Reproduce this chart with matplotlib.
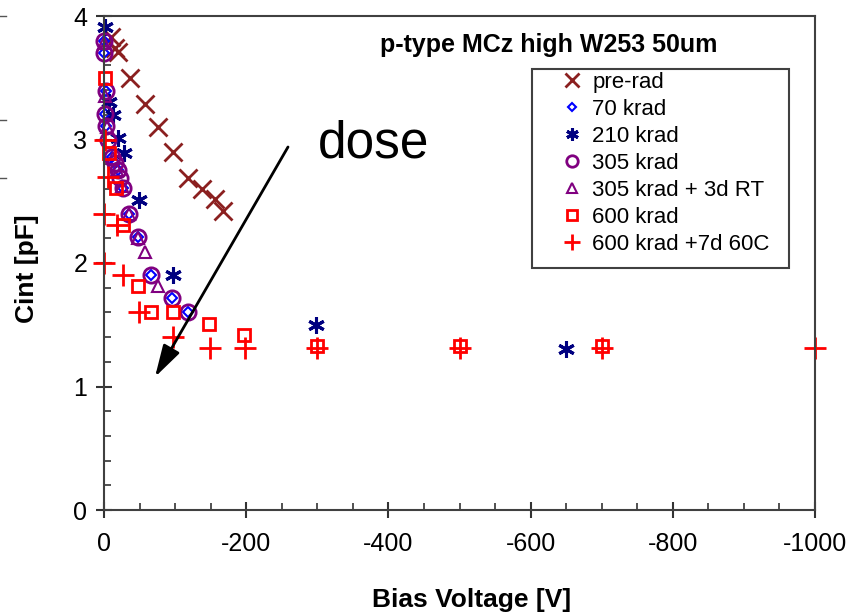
import numpy as np
import matplotlib
matplotlib.use('Agg')
import matplotlib.pyplot as plt
from matplotlib.lines import Line2D
from matplotlib.patches import Rectangle

plt.rcParams['font.family'] = ['Liberation Sans', 'DejaVu Sans']
plt.rcParams['axes.unicode_minus'] = False

# data: bias voltage [V], inter-strip capacitance [pF]
pre_rad_v = [-10, -20, -16, -37, -58, -76, -97, -118, -138, -156, -167]
pre_rad_c = [3.83, 3.71, 3.74, 3.50, 3.29, 3.10, 2.90, 2.69, 2.60, 2.52, 2.42]

k70_v = [0, 0, -3, -2, -3, -11, -15, -20, -27, -35, -48, -66, -96, -118]
k70_c = [3.80, 3.70, 3.39, 3.21, 3.11, 2.86, 2.81, 2.75, 2.61, 2.40, 2.21, 1.90, 1.72, 1.60]

k210_v = [-1, -7, -13, -20, -28, -49, -97, -298, -650]
k210_c = [3.91, 3.30, 3.20, 3.01, 2.89, 2.51, 1.90, 1.50, 1.30]

k305_v = [0, 0, -3, -2, -3, -6, -11, -15, -20, -23, -27, -35, -48, -66, -96, -118]
k305_c = [3.80, 3.70, 3.39, 3.21, 3.11, 3.00, 2.86, 2.81, 2.75, 2.69, 2.61, 2.40, 2.21, 1.90, 1.72, 1.60]

k305rt_v = [0, -2, -4, -12, -18, -25, -35, -48, -58, -76]
k305rt_c = [3.78, 3.35, 3.10, 2.85, 2.75, 2.62, 2.40, 2.20, 2.09, 1.81]

k600_v = [-1, -7, -17, -27, -48, -66, -97, -148, -197, -300, -500, -700]
k600_c = [3.50, 2.89, 2.61, 2.31, 1.81, 1.60, 1.60, 1.51, 1.42, 1.33, 1.33, 1.33]

k600an_v = [-1, -6, 0, -18, 0, -27, -49, -97, -149, -198, -300, -500, -700, -1000]
k600an_c = [3.00, 2.70, 2.40, 2.31, 2.00, 1.90, 1.60, 1.40, 1.31, 1.31, 1.31, 1.31, 1.31, 1.31]

W, H = 856, 614
fig = plt.figure(figsize=(W / 100, H / 100), dpi=100)
ax = fig.add_axes([104 / W, 1 - 510 / H, (815 - 104) / W, (510 - 16) / H])

kw = dict(ls='none', clip_on=False)
ax.plot(pre_rad_v, pre_rad_c, marker='x', ms=13, mew=2, color='#8B2020', label='pre-rad', **kw)
ax.plot(k70_v, k70_c, marker='D', ms=5, mew=1.5, mfc='none', color='#0000FF', label='70 krad', **kw)
ax.plot(k210_v, k210_c, marker=(6, 2, 0), ms=12, mew=2.2, color='#000080', label='210 krad', **kw)
ax.plot(k305_v, k305_c, marker='o', ms=11, mew=2, mfc='none', color='#800080', label='305 krad', **kw)
ax.plot(k305rt_v, k305rt_c, marker='^', ms=9, mew=1.5, mfc='none', color='#800080', label='305 krad + 3d RT', **kw)
ax.plot(k600_v, k600_c, marker='s', ms=9, mew=2, mfc='none', color='#FF0000', label='600 krad', **kw)
ax.plot(k600an_v, k600an_c, marker='+', ms=16, mew=2, color='#FF0000', label='600 krad +7d 60C', **kw)

ax.set_xlim(0, -1000)
ax.set_ylim(0, 4)
ax.set_xticks([0, -200, -400, -600, -800, -1000])
ax.set_yticks([0, 1, 2, 3, 4])
ax.set_xticks(np.arange(0, -1001, -50), minor=True)
ax.set_yticks(np.arange(0, 4.01, 0.2), minor=True)
ax.tick_params(which='major', direction='inout', length=12, width=1.5, labelsize=18, color='#333333', pad=6)
ax.tick_params(axis='x', which='major', pad=10)
ax.tick_params(which='minor', direction='in', length=5, width=1.2, color='#333333')
for s in ax.spines.values():
    s.set_color('#404040')
    s.set_linewidth(1.5)

# legend: frame drawn separately so the padding matches
leg = ax.legend(loc='upper left', bbox_to_anchor=((559 - 104) / 711, (510 - 72) / 494),
                frameon=False, fontsize=16, borderpad=0, borderaxespad=0,
                handlelength=1.2, handletextpad=0.3, labelspacing=0.27, markerscale=0.75)
ax.add_patch(Rectangle(((532 - 104) / 711, (510 - 268) / 494), (789 - 532) / 711, (268 - 69) / 494,
                       transform=ax.transAxes, fill=False, ec='#404040', lw=1.5, zorder=5))

fig.text(549 / W, 1 - 45 / H, 'p-type MCz high W253 50um', ha='center', va='center',
         fontsize=18, fontweight='bold')
fig.text(472 / W, 1 - 600 / H, 'Bias Voltage [V]', ha='center', va='center',
         fontsize=19, fontweight='bold')
fig.text(27 / W, 1 - 269 / H, 'Cint [pF]', ha='center', va='center', rotation=90,
         fontsize=19, fontweight='bold')

# slide annotation
fig.text(318 / W, 1 - 158 / H, 'dose', ha='left', va='baseline', fontsize=37)
ax.annotate('', xy=(155 / W, 1 - 377 / H), xytext=(288 / W, 1 - 147 / H),
            xycoords='figure fraction', textcoords='figure fraction',
            arrowprops=dict(arrowstyle='-|>,head_length=1.4,head_width=0.4', lw=2,
                            color='black', shrinkA=0, shrinkB=0, mutation_scale=14))

# bits of the cropped slide at the left edge
for yy in [16, 120, 178]:
    fig.add_artist(Line2D([0, 6 / W], [1 - yy / H, 1 - yy / H], color='#555555', lw=1))

fig.savefig('out.png', dpi=100)
